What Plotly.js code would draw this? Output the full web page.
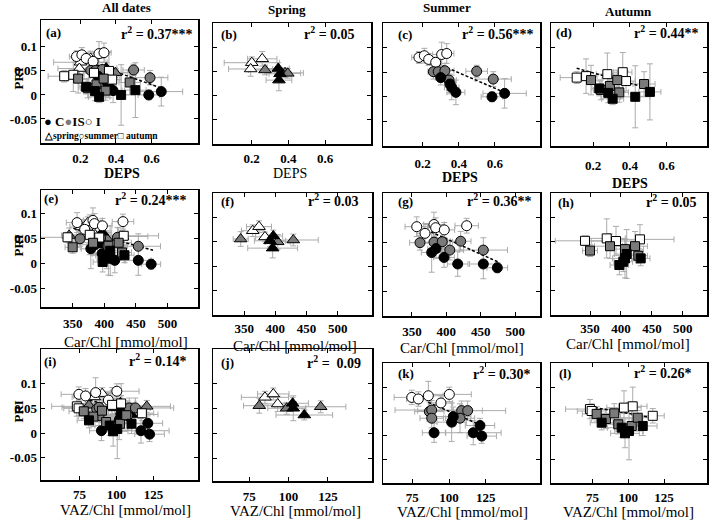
<!DOCTYPE html>
<html><head><meta charset="utf-8">
<script src="https://cdn.plot.ly/plotly-3.0.1.min.js"></script>
<style>html,body{margin:0;padding:0;background:#fff}#chart{width:709px;height:521px}</style>
</head><body><div id="chart"></div>
<script>
// ---------- DATA ----------
// class codes: C = black, IS = gray, I = white
// Spring, DEPS
const springDepsX = [0.201, 0.258, 0.195, 0.273, 0.382, 0.397, 0.345, 0.355, 0.349];
const springDepsY = [0.068, 0.076, 0.055, 0.053, 0.047, 0.046, 0.056, 0.045, 0.032];
const springDepsEx = [0.15, 0.08, 0.12, 0.09, 0.10, 0.07, 0.06, 0.06, 0.07];
const springDepsEy = [0.012, 0.015, 0.015, 0.010, 0.010, 0.010, 0.012, 0.012, 0.022];
const springDepsCls = ['I','I','I','IS','IS','IS','C','C','C'];
// Summer, DEPS
const summerDepsX = [0.179, 0.209, 0.233, 0.272, 0.305, 0.333, 0.259, 0.286, 0.323, 0.346, 0.499, 0.591, 0.300, 0.351, 0.361, 0.384, 0.584, 0.654];
const summerDepsY = [0.080, 0.0835, 0.076, 0.070, 0.086, 0.088, 0.051, 0.051, 0.053, 0.034, 0.052, 0.036, 0.039, 0.026, 0.019, 0.009, 0.000, 0.007];
const summerDepsEx = [0.04, 0.03, 0.03, 0.03, 0.05, 0.04, 0.03, 0.04, 0.05, 0.04, 0.06, 0.10, 0.03, 0.03, 0.04, 0.05, 0.06, 0.12];
const summerDepsEy = [0.012, 0.015, 0.012, 0.010, 0.025, 0.020, 0.015, 0.015, 0.015, 0.020, 0.012, 0.015, 0.015, 0.020, 0.025, 0.025, 0.010, 0.030];
const summerDepsCls = ['I','I','I','I','I','I','IS','IS','IS','IS','IS','IS','C','C','C','C','C','C'];
// Autumn, DEPS
const autumnDepsX = [0.110, 0.161, 0.277, 0.361, 0.379, 0.188, 0.242, 0.291, 0.331, 0.342, 0.477, 0.233, 0.282, 0.306, 0.429, 0.509];
const autumnDepsY = [0.039, 0.042, 0.046, 0.050, 0.032, 0.034, 0.014, 0.022, 0.034, 0.009, 0.026, 0.017, 0.008, -0.004, 0.000, 0.010];
const autumnDepsEx = [0.09, 0.06, 0.06, 0.05, 0.05, 0.06, 0.04, 0.05, 0.05, 0.05, 0.06, 0.04, 0.04, 0.06, 0.08, 0.06];
const autumnDepsEy = [0.012, 0.035, 0.043, 0.040, 0.020, 0.030, 0.020, 0.025, 0.020, 0.020, 0.025, 0.015, 0.020, 0.012, 0.063, 0.057];
const autumnDepsCls = ['I','I','I','I','I','IS','IS','IS','IS','IS','IS','C','C','C','C','C'];
// Spring, Car/Chl
const springCarX = [363.7, 373.8, 383.4, 344.4, 403.8, 428.8, 391.4, 396.7, 395.7];
const springCarY = [0.0727, 0.081, 0.060, 0.0557, 0.050, 0.0537, 0.052, 0.062, 0.037];
const springCarEx = [18, 20, 15, 12, 20, 40, 25, 15, 40];
const springCarEy = [0.012, 0.012, 0.010, 0.015, 0.015, 0.012, 0.012, 0.012, 0.020];
const springCarCls = ['I','I','I','IS','IS','IS','C','C','C'];
// Summer, Car/Chl
const summerCarX = [357, 369, 382, 384.5, 397, 429.5, 361.7, 382, 394, 405, 420.8, 453.7, 378.7, 385, 396.6, 416.5, 453.7, 474];
const summerCarY = [0.0815, 0.068, 0.086, 0.0795, 0.075, 0.0835, 0.049, 0.050, 0.051, 0.034, 0.052, 0.034, 0.029, 0.037, 0.019, 0.0057, 0.0057, -0.002];
const summerCarEx = [17, 12, 15, 12, 15, 17, 15, 20, 15, 20, 15, 35, 15, 12, 15, 15, 20, 15];
const summerCarEy = [0.020, 0.020, 0.025, 0.020, 0.015, 0.015, 0.015, 0.020, 0.020, 0.020, 0.020, 0.025, 0.040, 0.020, 0.020, 0.025, 0.030, 0.010];
const summerCarCls = ['I','I','I','I','I','I','IS','IS','IS','IS','IS','IS','C','C','C','C','C','C'];
// Autumn, Car/Chl
const autumnCarX = [341.9, 377, 392, 430.7, 350, 382.3, 406.5, 422.7, 428, 397.4, 403.8, 409.3, 431.9, 406.5];
const autumnCarY = [0.052, 0.057, 0.0516, 0.055, 0.032, 0.041, 0.035, 0.041, 0.0215, 0.0024, 0.009, 0.025, 0.016, 0.016];
const autumnCarEx = [48, 30, 40, 55, 12, 25, 30, 20, 15, 15, 15, 20, 15, 20];
const autumnCarEy = [0.010, 0.040, 0.030, 0.030, 0.012, 0.025, 0.020, 0.030, 0.015, 0.020, 0.020, 0.050, 0.015, 0.040];
const autumnCarCls = ['I','I','I','I','IS','IS','IS','IS','IS','C','C','C','C','C'];
// Spring, VAZ/Chl
const springVazX = [85, 90.3, 93.1, 81.4, 98.8, 120.4, 102.6, 103, 110];
const springVazY = [0.073, 0.0797, 0.0596, 0.0562, 0.051, 0.054, 0.061, 0.051, 0.0375];
const springVazEx = [15, 10, 12, 10, 12, 16, 10, 8, 18];
const springVazEy = [0.012, 0.012, 0.015, 0.015, 0.012, 0.012, 0.012, 0.025, 0.010];
const springVazCls = ['I','I','I','IS','IS','IS','C','C','C'];
// Summer, VAZ/Chl
const summerVazX = [74.6, 79.1, 85.9, 94.5, 100.2, 86.6, 88.2, 88.2, 108.6, 112.7, 107.5, 89.8, 101.8, 102.9, 116.5, 121.1, 122.3];
const summerVazY = [0.0783, 0.075, 0.0818, 0.0667, 0.0846, 0.0488, 0.052, 0.035, 0.0508, 0.0508, 0.035, 0.0047, 0.0267, 0.0384, 0.0047, 0.0198, -0.0023];
const summerVazEx = [12, 8, 10, 8, 15, 10, 25, 8, 30, 10, 10, 8, 10, 12, 19, 10, 10];
const summerVazEy = [0.015, 0.015, 0.030, 0.015, 0.015, 0.020, 0.020, 0.020, 0.020, 0.020, 0.030, 0.020, 0.040, 0.020, 0.025, 0.015, 0.015];
const summerVazCls = ['I','I','I','I','I','IS','IS','IS','IS','IS','IS','C','C','C','C','C','C'];
// Autumn, VAZ/Chl
const autumnVazX = [73.2, 74.4, 97, 103.1, 117.1, 77.9, 84.4, 90.2, 93, 102.4, 106.6, 81.4, 95.4, 97.7, 100.5, 110.1];
const autumnVazY = [0.054, 0.050, 0.057, 0.0598, 0.040, 0.044, 0.0333, 0.0452, 0.0223, 0.0188, 0.036, 0.0256, 0.0152, 0.0035, 0.0083, 0.0188];
const autumnVazEx = [17, 10, 12, 10, 8, 10, 10, 12, 10, 10, 12, 8, 10, 10, 10, 10];
const autumnVazEy = [0.020, 0.015, 0.035, 0.040, 0.015, 0.015, 0.020, 0.020, 0.020, 0.015, 0.015, 0.015, 0.020, 0.030, 0.060, 0.020];
const autumnVazCls = ['I','I','I','I','I','IS','IS','IS','IS','IS','IS','C','C','C','C','C'];

// Regression lines (end points)
const fitAx = [0.161, 0.656], fitAy = [0.080, 0.014];
const fitCx = [0.259, 0.647], fitCy = [0.071, 0.010];
const fitDx = [0.110, 0.482], fitDy = [0.058, 0.019];
const fitEx = [351, 477],     fitEy = [0.070, 0.026];
const fitGx = [371, 475],     fitGy = [0.075, 0.010];
const fitIx = [72, 110],      fitIy = [0.0735, 0.045];
const fitKx = [85.9, 121.1],  fitKy = [0.068, 0.0213];
const fitLx = [73.2, 117.1],  fitLy = [0.059, 0.036];

// Tick labels
const depsTicks = [0.2, 0.4, 0.6];
const carTicks = [350, 400, 450, 500];
const vazTicks = [75, 100, 125];
const priTicks = [-0.05, 0, 0.05, 0.1];
const priTickText = ['-0.05', '0', '0.05', '0.1'];
const r2Texts = ['0.37***', '0.05', '0.56***', '0.44**', '0.24***', '0.03', '0.36**', '0.05', '0.14*', ' 0.09', '0.30*', '0.26*'];
const columnTitles = ['All dates', 'Spring', 'Summer', 'Autumn'];

// ---------- BUILD ----------
const W = 709, H = 521;
const FONT = 'Liberation Serif, Times New Roman, serif';
const sets = {
  spring: {
    deps: {x: springDepsX, y: springDepsY, ex: springDepsEx, ey: springDepsEy, c: springDepsCls},
    car:  {x: springCarX,  y: springCarY,  ex: springCarEx,  ey: springCarEy,  c: springCarCls},
    vaz:  {x: springVazX,  y: springVazY,  ex: springVazEx,  ey: springVazEy,  c: springVazCls}
  },
  summer: {
    deps: {x: summerDepsX, y: summerDepsY, ex: summerDepsEx, ey: summerDepsEy, c: summerDepsCls},
    car:  {x: summerCarX,  y: summerCarY,  ex: summerCarEx,  ey: summerCarEy,  c: summerCarCls},
    vaz:  {x: summerVazX,  y: summerVazY,  ex: summerVazEx,  ey: summerVazEy,  c: summerVazCls}
  },
  autumn: {
    deps: {x: autumnDepsX, y: autumnDepsY, ex: autumnDepsEx, ey: autumnDepsEy, c: autumnDepsCls},
    car:  {x: autumnCarX,  y: autumnCarY,  ex: autumnCarEx,  ey: autumnCarEy,  c: autumnCarCls},
    vaz:  {x: autumnVazX,  y: autumnVazY,  ex: autumnVazEx,  ey: autumnVazEy,  c: autumnVazCls}
  }
};
const classColor = {C: '#000000', IS: '#7a7a7a', I: '#ffffff'};
const seasonSymbol = {spring: 'triangle-up', summer: 'circle', autumn: 'square'};
const seasonSize = {spring: 11, summer: 10, autumn: 9};
const varTicks = {deps: depsTicks, car: carTicks, vaz: vazTicks};
const varTitle = {deps: 'DEPS', car: 'Car/Chl [mmol/mol]', vaz: 'VAZ/Chl [mmol/mol]'};
const ALL = ['spring', 'summer', 'autumn'];

// layout of the 12 panels (pixel boxes, axis ranges, text positions)
const panels = [
  {k:'a', col:0, v:'deps', s:ALL,        box:[41,198,20,143],  xr:[-0.02,0.86], yr:[-0.1,0.156], fit:[fitAx,fitAy], so:3, lab:[45,33],  r2:[194,33],  tt:[122,174], tb:true},
  {k:'b', col:1, v:'deps', s:['spring'], box:[213,371,23,144], xr:[-0.01,0.85], yr:[-0.1,0.15],  fit:null,          so:2, lab:[220,34], r2:[356,33],  tt:[290,174], tb:false},
  {k:'c', col:2, v:'deps', s:['summer'], box:[383,540,23,146], xr:[-0.02,0.85], yr:[-0.1,0.15],  fit:[fitCx,fitCy], so:5, lab:[397,34], r2:[535,33],  tt:[460,177], tb:true},
  {k:'d', col:3, v:'deps', s:['autumn'], box:[551,707,23,146], xr:[-0.03,0.82], yr:[-0.1,0.15],  fit:[fitDx,fitDy], so:7, lab:[555,33], r2:[700,32],  tt:[630,183], tb:true},
  {k:'e', col:0, v:'car',  s:ALL,        box:[41,198,190,307], xr:[300,548],    yr:[-0.088,0.147], fit:[fitEx,fitEy], so:4, lab:[43,199], r2:[188,199], tt:[126,342], tb:false},
  {k:'f', col:1, v:'car',  s:['spring'], box:[213,372,193,315],xr:[300,555],    yr:[-0.1,0.15],  fit:null,          so:1, lab:[220,201],r2:[360,200], tt:[295,346], tb:false},
  {k:'g', col:2, v:'car',  s:['summer'], box:[383,540,193,316],xr:[308,536],    yr:[-0.1,0.15],  fit:[fitGx,fitGy], so:3, lab:[397,201],r2:[533,200], tt:[462,348], tb:false},
  {k:'h', col:3, v:'car',  s:['autumn'], box:[551,707,193,315],xr:[287,539],    yr:[-0.1,0.15],  fit:null,          so:1, lab:[557,202],r2:[698,201], tt:[628,344], tb:false},
  {k:'i', col:0, v:'vaz',  s:ALL,        box:[41,198,349,480], xr:[49,155],     yr:[-0.095,0.17], fit:[fitIx,fitIy], so:2, lab:[43,361], r2:[188,360], tt:[125,510], tb:false},
  {k:'j', col:1, v:'vaz',  s:['spring'], box:[213,372,349,481],xr:[52,153],     yr:[-0.095,0.17], fit:null,         so:3, lab:[220,362],r2:[362,362], tt:[295,511], tb:false},
  {k:'k', col:2, v:'vaz',  s:['summer'], box:[383,540,363,483],xr:[55,162],     yr:[-0.1,0.15],  fit:[fitKx,fitKy], so:2, lab:[397,373],r2:[532,373], tt:[462,512], tb:false},
  {k:'l', col:3, v:'vaz',  s:['autumn'], box:[551,707,363,483],xr:[46,155],     yr:[-0.1,0.15],  fit:[fitLx,fitLy], so:2, lab:[558,373],r2:[693,372], tt:[628,512], tb:false}
];

const traces = [];
const layout = {
  width: W, height: H, margin: {l:0, r:0, t:0, b:0},
  paper_bgcolor: '#fff', plot_bgcolor: '#fff', showlegend: false,
  font: {family: FONT, color: '#000'}, annotations: []
};
function ann(text, x, y, o) {
  o = o || {};
  layout.annotations.push(Object.assign({
    xref: 'paper', yref: 'paper', x: x / W, y: 1 - y / H,
    xanchor: 'center', yanchor: 'middle', showarrow: false, text: text, borderpad: 0,
    font: {family: FONT, size: 14, color: '#000'}
  }, o));
}

panels.forEach((p, i) => {
  const n = i + 1;
  const xa = n === 1 ? 'x' : 'x' + n, ya = n === 1 ? 'y' : 'y' + n;
  const [L, R, T, B] = p.box;
  // error bars first
  p.s.forEach(s => {
    const d = sets[s][p.v];
    traces.push({
      x: d.x, y: d.y, xaxis: xa, yaxis: ya, mode: 'markers', hoverinfo: 'skip',
      marker: {size: 1, color: 'rgba(0,0,0,0)'},
      error_x: {type: 'data', array: d.ex, visible: true, color: '#ababab', thickness: 1, width: 3},
      error_y: {type: 'data', array: d.ey, visible: true, color: '#ababab', thickness: 1, width: 3}
    });
  });
  if (p.fit) {
    traces.push({x: p.fit[0], y: p.fit[1], xaxis: xa, yaxis: ya, mode: 'lines', hoverinfo: 'skip',
      line: {color: '#000', width: 1.5, dash: '3px,2px'}});
  }
  p.s.forEach(s => {
    const d = sets[s][p.v];
    traces.push({
      x: d.x, y: d.y, xaxis: xa, yaxis: ya, mode: 'markers',
      marker: {symbol: seasonSymbol[s], size: seasonSize[s], color: d.c.map(c => classColor[c]),
               line: {color: '#000', width: 1}}
    });
  });
  const common = {
    showgrid: false, zeroline: false, showline: true, linecolor: '#000', linewidth: 1.5,
    mirror: 'ticks', ticks: 'inside', ticklen: 4, tickwidth: 1, tickcolor: '#000', fixedrange: true,
    tickfont: {family: FONT, size: 13, color: '#000', weight: 'bold'}
  };
  const tv = varTicks[p.v];
  layout['xaxis' + (n === 1 ? '' : n)] = Object.assign({}, common, {
    domain: [L / W, R / W], range: p.xr, anchor: ya,
    tickmode: 'array', tickvals: tv, ticktext: tv.map(String), ticklabelstandoff: p.so
  });
  layout['yaxis' + (n === 1 ? '' : n)] = Object.assign({}, common, {
    domain: [1 - B / H, 1 - T / H], range: p.yr, anchor: xa,
    tickmode: 'array', tickvals: priTicks, ticktext: priTickText, showticklabels: p.col === 0
  });
  // texts
  ann('<b>(' + p.k + ')</b>', p.lab[0], p.lab[1], {xanchor: 'left', font: {family: FONT, size: 13, color: '#000'}});
  ann('<b>r<sup>2</sup> = ' + r2Texts[i] + '</b>', p.r2[0], p.r2[1], {xanchor: 'right', font: {family: FONT, size: 14, color: '#000'}});
  ann(p.tb ? '<b>' + varTitle[p.v] + '</b>' : varTitle[p.v], p.tt[0], p.tt[1],
      {font: {family: FONT, size: p.v === 'deps' ? 14 : 15, color: '#000'}});
  if (p.col === 0) {
    ann('<b>PRI</b>', 18, (T + B) / 2 - 3, {textangle: -90, font: {family: FONT, size: 13, color: '#000'}});
  }
});

// column titles
const colCenters = [[126, 8], [287, 10], [447, 8], [628, 12]];
columnTitles.forEach((t, i) => ann('<b>' + t + '</b>', colCenters[i][0], colCenters[i][1], {font: {family: FONT, size: 13, color: '#000'}}));

// legend text in panel (a)
ann('<b>● C<span style="color:#7a7a7a">●</span>IS○ I</b>', 43, 121, {xanchor: 'left', font: {family: FONT, size: 13, color: '#000'}});
ann('<b>△spring○summer□ autumn</b>', 43, 136, {xanchor: 'left', font: {family: FONT, size: 9.5, color: '#000'}});

Plotly.newPlot('chart', traces, layout, {staticPlot: true, displayModeBar: false});
</script>
</body></html>
